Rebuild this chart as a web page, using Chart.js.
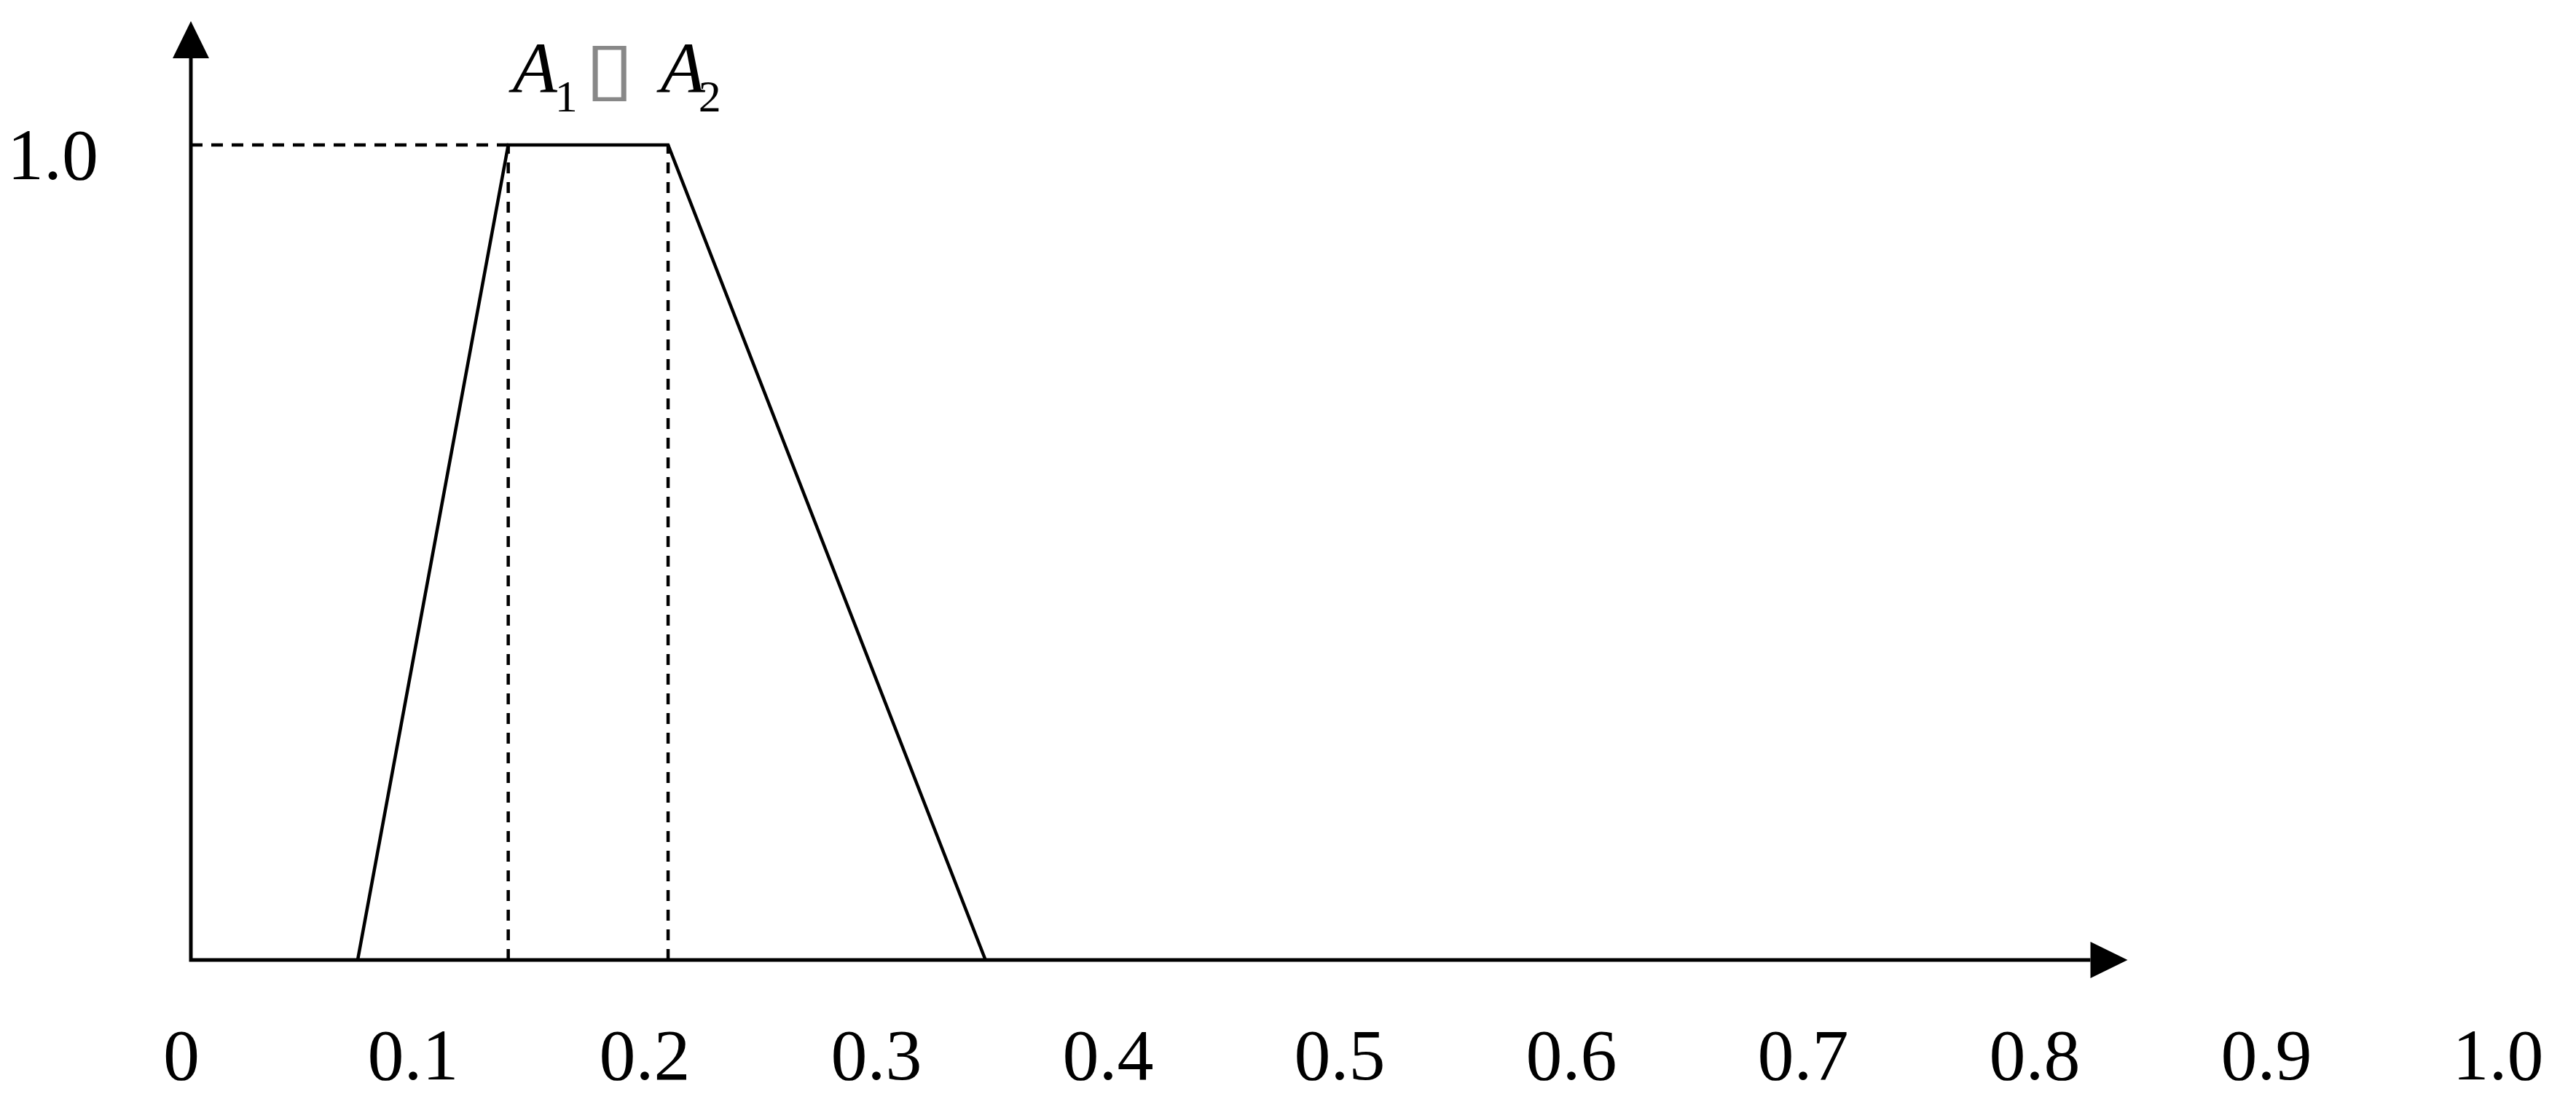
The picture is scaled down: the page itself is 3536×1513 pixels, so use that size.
<!DOCTYPE html>
<html>
<head>
<meta charset="utf-8">
<title>A1 A2</title>
<script src="https://cdn.jsdelivr.net/npm/chart.js@4.4.1/dist/chart.umd.min.js"></script>
<style>
    html, body { margin: 0; padding: 0; background: #ffffff; }
    canvas { display: block; }
</style>
</head>
<body>
<canvas id="fuzzy-chart" width="3536" height="1513"></canvas>
<script>
// labels printed under the x axis and beside the y axis
const xTickLabels = ["0", "0.1", "0.2", "0.3", "0.4", "0.5", "0.6", "0.7", "0.8", "0.9", "1.0"]
const yTickLabels = ["1.0"]

// corners of the trapezoid (x, membership)
const shapeX = [0.072, 0.137, 0.206, 0.343]
const shapeY = [0, 1, 1, 0]

// where the two axis arrows end
const axisEndX = 0.836
const axisEndY = 1.152

const serif = "'Liberation Serif', 'Times New Roman', serif"

function points(xs, ys) {
    return xs.map((x, i) => ({ x: x, y: ys[i] }))
}

// dashed guides from the plateau corners to both axes
const guideTop = points([0, shapeX[1]], [shapeY[1], shapeY[1]])
const guideLeft = points([shapeX[1], shapeX[1]], [0, shapeY[1]])
const guideRight = points([shapeX[2], shapeX[2]], [0, shapeY[2]])

const axisArrows = {
    id: "axisArrows",
    afterDatasetsDraw(chart) {
        const ctx = chart.ctx
        const x0 = chart.scales.x.getPixelForValue(0)
        const y0 = chart.scales.y.getPixelForValue(0)
        const xEnd = chart.scales.x.getPixelForValue(axisEndX)
        const yEnd = chart.scales.y.getPixelForValue(axisEndY)
        const head = 51
        const half = 25

        ctx.save()
        ctx.strokeStyle = "#000000"
        ctx.fillStyle = "#000000"
        ctx.lineWidth = 5
        ctx.lineJoin = "miter"
        ctx.beginPath()
        ctx.moveTo(x0, yEnd + head)
        ctx.lineTo(x0, y0)
        ctx.lineTo(xEnd - head, y0)
        ctx.stroke()

        // x arrow head
        ctx.beginPath()
        ctx.moveTo(xEnd, y0)
        ctx.lineTo(xEnd - head, y0 - half)
        ctx.lineTo(xEnd - head, y0 + half)
        ctx.closePath()
        ctx.fill()

        // y arrow head
        ctx.beginPath()
        ctx.moveTo(x0, yEnd)
        ctx.lineTo(x0 - half, yEnd + head)
        ctx.lineTo(x0 + half, yEnd + head)
        ctx.closePath()
        ctx.fill()
        ctx.restore()
    },
}

const curveLabel = {
    id: "curveLabel",
    afterDraw(chart) {
        const ctx = chart.ctx
        const left = chart.scales.x.getPixelForValue(shapeX[1]) + 6
        const base = chart.scales.y.getPixelForValue(shapeY[1]) - 72

        ctx.save()
        ctx.fillStyle = "#000000"
        ctx.textAlign = "left"
        ctx.textBaseline = "alphabetic"
        ctx.font = "italic 100px " + serif
        ctx.fillText("A", left, base)
        ctx.fillText("A", left + 203, base)
        ctx.font = "62px " + serif
        ctx.fillText("1", left + 58, base + 26)
        ctx.fillText("2", left + 255, base + 26)

        // the operator shows up as an empty box in the source figure
        ctx.fillStyle = "#888888"
        ctx.font = "100px 'DejaVu Sans'"
        ctx.textAlign = "center"
        ctx.translate(left + 133, base)
        ctx.scale(1.25, 1)
        ctx.fillText("\u25AF", 0, 0)
        ctx.restore()
    },
}

const line = (data, dash) => ({
    data: data,
    showLine: true,
    borderColor: "#000000",
    backgroundColor: "#000000",
    borderWidth: 4.5,
    borderDash: dash,
    pointRadius: 0,
    tension: 0,
    clip: false,
})

const canvas = document.getElementById("fuzzy-chart")
const myChart = new Chart(canvas, {
    type: "scatter",
    data: {
        datasets: [
            line(points(shapeX, shapeY), []),
            line(guideTop, [16, 12]),
            line(guideLeft, [15, 12]),
            line(guideRight, [15, 12]),
        ],
    },
    options: {
        responsive: false,
        animation: false,
        devicePixelRatio: 1,
        layout: {
            padding: { left: 10, right: 94, top: 199, bottom: 1 },
        },
        plugins: {
            legend: { display: false },
            tooltip: { enabled: false },
        },
        scales: {
            x: {
                type: "linear",
                min: 0,
                max: 1,
                grid: { display: false, drawTicks: false },
                border: { display: false },
                afterFit: (axis) => {
                    axis.height = 194
                    axis.paddingLeft = 0
                    axis.paddingRight = 0
                },
                ticks: {
                    stepSize: 0.1,
                    autoSkip: false,
                    maxRotation: 0,
                    padding: 78,
                    labelOffset: -13,
                    color: "#000000",
                    font: { family: serif, size: 100 },
                    callback: (v, i) => xTickLabels[i],
                },
            },
            y: {
                type: "linear",
                min: 0,
                max: 1,
                grid: { display: false, drawTicks: false },
                border: { display: false },
                afterBuildTicks: (axis) => {
                    axis.ticks = yTickLabels.map(() => ({ value: 1 }))
                },
                afterFit: (axis) => {
                    axis.width = 252
                },
                ticks: {
                    padding: 127,
                    labelOffset: 21,
                    color: "#000000",
                    font: { family: serif, size: 100 },
                    callback: (v, i) => yTickLabels[i],
                },
            },
        },
    },
    plugins: [axisArrows, curveLabel],
})
</script>
</body>
</html>
